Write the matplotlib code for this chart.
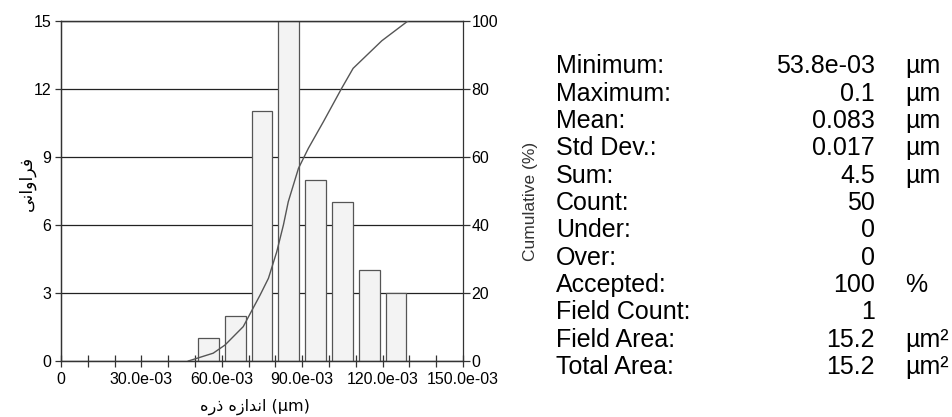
import matplotlib
matplotlib.use("Agg")
import matplotlib.pyplot as plt
import numpy as np

plt.rcParams['font.family'] = ['Liberation Sans', 'DejaVu Sans']

# ---- data ----
bin_centers = [0.055, 0.065, 0.075, 0.085, 0.095, 0.105, 0.115, 0.125]
frequency = [1, 2, 11, 15, 8, 7, 4, 3]

cum_x = [0.0475, 0.0568, 0.0612, 0.068, 0.0743, 0.0774, 0.0805, 0.083, 0.0848,
         0.0886, 0.0923, 0.0979, 0.1047, 0.109, 0.1197, 0.1296]
cum_y = [0.0, 2.3, 4.7, 10.1, 19.4, 24.3, 32.1, 40.0, 46.8,
         56.6, 62.5, 70.3, 80.1, 86.0, 94.1, 100.0]

x_tick_values = [i * 0.01 for i in range(16)]
x_tick_labels = ["0", "", "", "30.0e-03", "", "", "60.0e-03", "", "", "90.0e-03",
                 "", "", "120.0e-03", "", "", "150.0e-03"]
y_left_ticks = [0, 3, 6, 9, 12, 15]
y_right_ticks = [0, 20, 40, 60, 80, 100]

stat_labels = ["Minimum:", "Maximum:", "Mean:", "Std Dev.:", "Sum:", "Count:", "Under:",
               "Over:", "Accepted:", "Field Count:", "Field Area:", "Total Area:"]
stat_values = ["53.8e-03", "0.1", "0.083", "0.017", "4.5", "50", "0", "0", "100", "1",
               "15.2", "15.2"]
stat_units = ["µm", "µm", "µm", "µm", "µm", "", "", "", "%", "", "µm²", "µm²"]

# Persian labels (presentation forms in visual order)
ylabel_fa = "\uFEF0\uFEE7\uFE8D\uFEED\uFE8D\uFEAE\uFED3"          # فراوانی
xlabel_fa = "\uFEE9\uFEAD\uFEAB \uFEE9\uFEAF\uFE8D\uFEAA\uFEE7\uFE8D (µm)"  # اندازه ذره (µm)

W, H = 952, 417
fig = plt.figure(figsize=(W / 100, H / 100), dpi=100)
ax = fig.add_axes([61 / W, 1 - 361 / H, (463 - 61) / W, (361 - 20.7) / H])

ax.set_axisbelow(True)
ax.yaxis.grid(True, color='#222222', linewidth=0.9)
ax.bar(bin_centers, frequency, width=0.0077, color='#f3f3f3', edgecolor='#555555',
       linewidth=0.9, zorder=2)
ax.set_xlim(0, 0.15)
ax.set_ylim(0, 15)
ax.set_xticks(x_tick_values)
ax.set_xticklabels(x_tick_labels, fontsize=11.5)
ax.set_yticks(y_left_ticks)
ax.set_yticklabels([str(v) for v in y_left_ticks], fontsize=11.5)
ax.tick_params(axis='x', direction='inout', length=8, width=0.9, color='#333333', pad=4)
ax.tick_params(axis='y', direction='out', length=4, width=0.9, color='#333333', pad=3)
for s in ax.spines.values():
    s.set_color('#333333')
    s.set_linewidth(0.9)
ax.spines['right'].set_visible(False)

ax2 = ax.twinx()
ax2.plot(cum_x, cum_y, color='#555555', linewidth=1.0, zorder=3)
ax2.set_ylim(0, 100)
ax2.set_yticks(y_right_ticks)
ax2.set_yticklabels([str(v) for v in y_right_ticks], fontsize=11.5)
ax2.tick_params(axis='y', direction='out', length=5, width=0.9, color='#333333', pad=1)
for s in ax2.spines.values():
    s.set_color('#333333')
    s.set_linewidth(0.9)

fig.text(530 / W, 1 - 201 / H, "Cumulative (%)", rotation=90, ha='center', va='center',
         fontsize=12.5, color='#333333')
fig.text(27 / W, 1 - 183 / H, ylabel_fa, rotation=90, ha='center', va='center',
         fontsize=12.5, family=['DejaVu Sans'])
fig.text(255 / W, 1 - 407 / H, xlabel_fa, ha='center', va='center',
         fontsize=11.5, family=['DejaVu Sans'])

# statistics table
base0 = 73.3
step = 27.35
for i, (lab, val, unit) in enumerate(zip(stat_labels, stat_values, stat_units)):
    yb = 1 - (base0 + i * step) / H
    fig.text(556 / W, yb, lab, ha='left', va='baseline', fontsize=18)
    fig.text(875 / W, yb, val, ha='right', va='baseline', fontsize=18)
    if unit:
        fig.text(905 / W, yb, unit, ha='left', va='baseline', fontsize=18)

fig.savefig("out.png", dpi=100)
